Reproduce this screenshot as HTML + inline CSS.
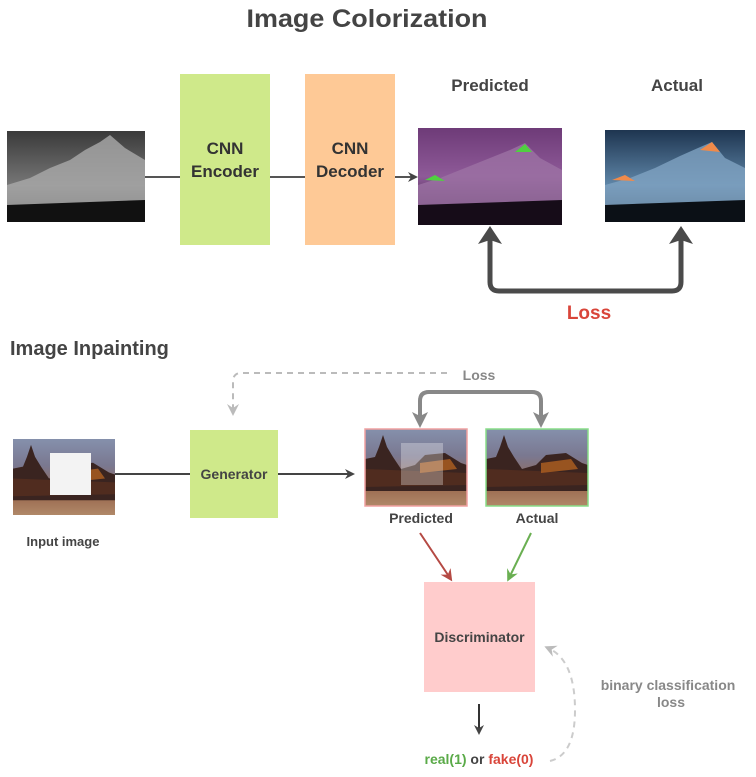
<!DOCTYPE html>
<html><head><meta charset="utf-8"><style>
body{margin:0;background:#fff;}
svg text{font-family:"Liberation Sans",sans-serif;font-weight:bold;}
</style></head><body>
<svg width="756" height="772" viewBox="0 0 756 772" xmlns="http://www.w3.org/2000/svg">
<defs>
<linearGradient id="g1" x1="0" y1="0" x2="0" y2="1"><stop offset="0" stop-color="#3a3a3a"/><stop offset="0.6" stop-color="#777"/><stop offset="1" stop-color="#151515"/></linearGradient>
<linearGradient id="g2" x1="0" y1="0" x2="0" y2="1"><stop offset="0" stop-color="#6e3b78"/><stop offset="0.5" stop-color="#8e5a98"/><stop offset="1" stop-color="#1a0f1e"/></linearGradient>
<linearGradient id="g3" x1="0" y1="0" x2="0" y2="1"><stop offset="0" stop-color="#1e3550"/><stop offset="0.6" stop-color="#5f86a8"/><stop offset="1" stop-color="#0e141b"/></linearGradient>
<linearGradient id="t" x1="0" y1="0" x2="0" y2="1"><stop offset="0" stop-color="#8590ac"/><stop offset="0.35" stop-color="#7a7890"/><stop offset="0.75" stop-color="#9a6a50"/><stop offset="1" stop-color="#b08868"/></linearGradient>
<g id="temple">
<rect width="102" height="77" fill="url(#t)"/>
<path d="M0,30 L10,28 L14,18 L18,6 L22,18 L28,28 L36,40 L50,36 L60,26 L80,24 L96,34 L102,36 L102,62 L0,62z" fill="#3a2420"/>
<path d="M0,40 L102,44 L102,56 L0,58z" fill="#5a3020" opacity="0.7"/>
<path d="M55,34 L85,30 L92,40 L55,44z" fill="#b06020" opacity="0.8"/>
</g>
<marker id="ad" markerWidth="10" markerHeight="10" refX="7" refY="5" orient="auto" markerUnits="userSpaceOnUse"><path d="M0,0 L10,5 L0,10 L3,5z" fill="#444"/></marker>
<marker id="al" markerWidth="12" markerHeight="12" refX="8" refY="6" orient="auto" markerUnits="userSpaceOnUse"><path d="M0,0 L12,6 L0,12 L4,6z" fill="#bbb"/></marker>
<marker id="ar" markerWidth="12" markerHeight="12" refX="8" refY="6" orient="auto" markerUnits="userSpaceOnUse"><path d="M0,0 L12,6 L0,12 L4,6z" fill="#b54a44"/></marker>
<marker id="agr" markerWidth="12" markerHeight="12" refX="8" refY="6" orient="auto" markerUnits="userSpaceOnUse"><path d="M0,0 L12,6 L0,12 L4,6z" fill="#6aaf52"/></marker>
</defs>
<text x="367" y="27" font-size="25" fill="#444" text-anchor="middle" textLength="241" lengthAdjust="spacingAndGlyphs">Image Colorization</text>

<rect x="7" y="131" width="138" height="91" fill="url(#g1)"/>
<path d="M7,185 L30,178 L50,168 L70,160 L85,150 L100,142 L110,135 L125,148 L145,160 L145,222 L7,222z" fill="#aaa" opacity="0.8"/>
<path d="M7,205 L145,200 L145,222 L7,222z" fill="#111"/>
<line x1="145" y1="177" x2="180" y2="177" stroke="#555" stroke-width="2"/>
<rect x="180" y="74" width="90" height="171" fill="#cfe98a"/>
<text x="225" y="154" font-size="17" fill="#333" text-anchor="middle">CNN</text>
<text x="225" y="177" font-size="17" fill="#333" text-anchor="middle">Encoder</text>
<line x1="270" y1="177" x2="305" y2="177" stroke="#555" stroke-width="2"/>
<rect x="305" y="74" width="90" height="171" fill="#fec996"/>
<text x="350" y="154" font-size="17" fill="#333" text-anchor="middle">CNN</text>
<text x="350" y="177" font-size="17" fill="#333" text-anchor="middle">Decoder</text>
<line x1="395" y1="177" x2="415" y2="177" stroke="#555" stroke-width="2" marker-end="url(#ad)"/>

<text x="490" y="91" font-size="17" fill="#444" text-anchor="middle">Predicted</text>
<text x="677" y="91" font-size="17" fill="#444" text-anchor="middle">Actual</text>
<rect x="418" y="128" width="144" height="97" fill="url(#g2)"/>
<path d="M418,185 L440,178 L465,168 L490,158 L510,150 L525,143 L540,158 L562,170 L562,225 L418,225z" fill="#9c72a4" opacity="0.8"/>
<path d="M418,205 L562,200 L562,225 L418,225z" fill="#160c18"/>
<path d="M425,180 L435,175 L445,181z M515,152 L525,144 L532,152z" fill="#50d040"/>
<rect x="605" y="130" width="140" height="92" fill="url(#g3)"/>
<path d="M605,185 L630,178 L655,168 L680,156 L698,148 L712,142 L725,158 L745,168 L745,222 L605,222z" fill="#7fa3c2" opacity="0.8"/>
<path d="M605,205 L745,200 L745,222 L605,222z" fill="#0b1016"/>
<path d="M612,180 L625,175 L635,181z M700,150 L712,142 L720,152z" fill="#f08a4a"/>
<path d="M490,236 L490,282 Q490,291 499,291 L672,291 Q681,291 681,282 L681,236" fill="none" stroke="#4a4a4a" stroke-width="5"/>
<path d="M478,244 L490,226 L502,244 L490,240z" fill="#4a4a4a"/>
<path d="M669,244 L681,226 L693,244 L681,240z" fill="#4a4a4a"/>
<text x="589" y="319" font-size="19" fill="#d9453a" text-anchor="middle">Loss</text>

<text x="10" y="355" font-size="20" fill="#444">Image Inpainting</text>
<path d="M447,373 L241,373 Q233,373 233,382 L233,412" fill="none" stroke="#bbb" stroke-width="2" stroke-dasharray="6,5" marker-end="url(#al)"/>
<text x="479" y="380" font-size="14" fill="#888" text-anchor="middle">Loss</text>
<path d="M420,420 L420,401 Q420,392 429,392 L532,392 Q541,392 541,401 L541,420" fill="none" stroke="#888" stroke-width="4"/>
<path d="M412,412 L420,428 L428,412 L420,416z" fill="#888"/>
<path d="M533,412 L541,428 L549,412 L541,416z" fill="#888"/>

<use href="#temple" transform="translate(13,439) scale(1,0.987)"/>
<rect x="50" y="453" width="41" height="42" fill="#f3f3f3"/>
<text x="63" y="546" font-size="13" fill="#444" text-anchor="middle">Input image</text>
<line x1="115" y1="474" x2="190" y2="474" stroke="#444" stroke-width="2"/>
<rect x="190" y="430" width="88" height="88" fill="#cfe98a"/>
<text x="234" y="479" font-size="14" fill="#444" text-anchor="middle">Generator</text>
<line x1="278" y1="474" x2="352" y2="474" stroke="#444" stroke-width="2" marker-end="url(#ad)"/>
<use href="#temple" x="365" y="429"/>
<rect x="365" y="429" width="102" height="77" fill="none" stroke="#f0a0a0" stroke-width="1.5"/>
<rect x="401" y="443" width="42" height="42" fill="#fff" opacity="0.3"/>
<use href="#temple" x="486" y="429"/>
<rect x="486" y="429" width="102" height="77" fill="none" stroke="#88dd88" stroke-width="1.5"/>
<text x="421" y="523" font-size="14" fill="#444" text-anchor="middle">Predicted</text>
<text x="537" y="523" font-size="14" fill="#444" text-anchor="middle">Actual</text>
<line x1="420" y1="533" x2="450" y2="578" stroke="#b54a44" stroke-width="2" marker-end="url(#ar)"/>
<line x1="531" y1="533" x2="509" y2="578" stroke="#6aaf52" stroke-width="2" marker-end="url(#agr)"/>
<rect x="424" y="582" width="111" height="110" fill="#ffcccc"/>
<text x="479.5" y="642" font-size="14" fill="#444" text-anchor="middle">Discriminator</text>
<line x1="479" y1="704" x2="479" y2="732" stroke="#333" stroke-width="2" marker-end="url(#ad)"/>
<text x="479" y="764" font-size="14" text-anchor="middle"><tspan fill="#5aaa48">real(1)</tspan><tspan fill="#444"> or </tspan><tspan fill="#d9453a">fake(0)</tspan></text>
<path d="M550,761 Q575,755 575,710 Q575,660 548,648" fill="none" stroke="#ccc" stroke-width="2" stroke-dasharray="6,5" marker-end="url(#al)"/>
<text x="668" y="690" font-size="14" fill="#888" text-anchor="middle">binary classification</text>
<text x="671" y="707" font-size="14" fill="#888" text-anchor="middle">loss</text>
</svg>
</body></html>
